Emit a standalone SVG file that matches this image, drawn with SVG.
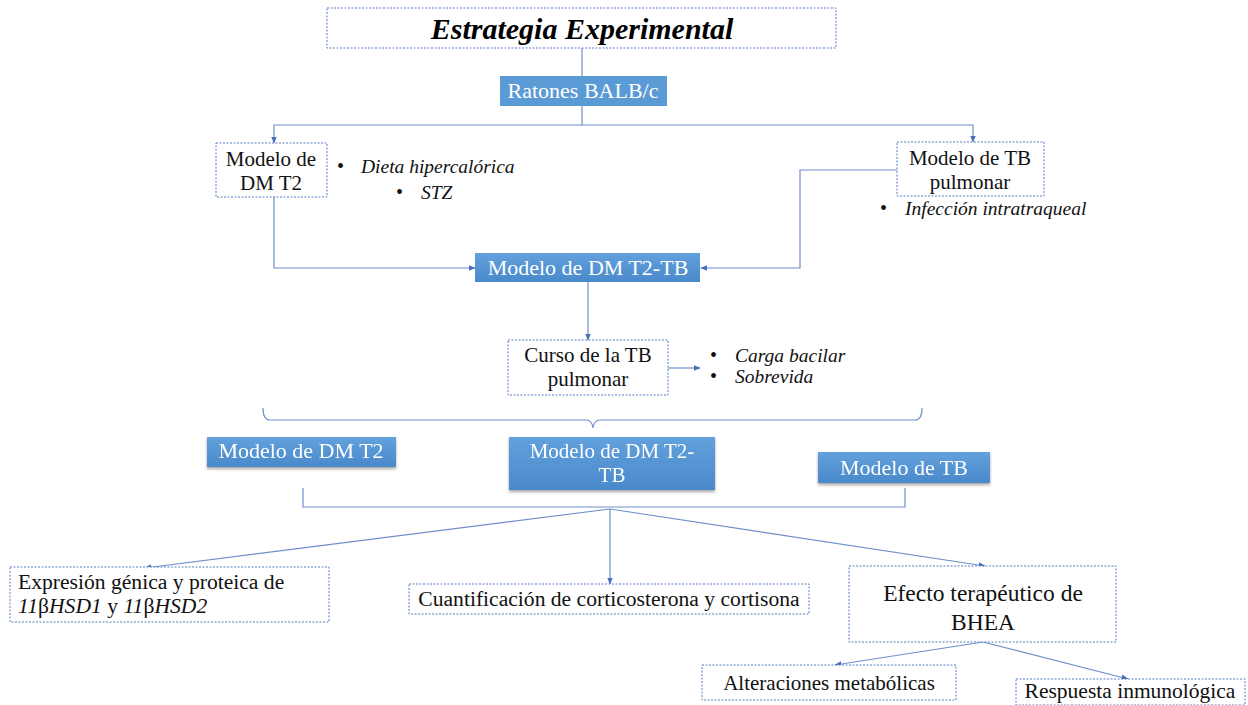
<svg xmlns="http://www.w3.org/2000/svg" width="1248" height="705" viewBox="0 0 1248 705">
<defs>
<style>
.dbox{fill:#fff;stroke:#5b7fc0;stroke-width:1;stroke-dasharray:2 1.5}
.bbox{fill:url(#bg);stroke:none}
.ln{fill:none;stroke:#6f8fcc;stroke-width:1.2}
</style>
<linearGradient id="bg" x1="0" y1="0" x2="0" y2="1">
<stop offset="0" stop-color="#62a1dc"/>
<stop offset="1" stop-color="#4a89cb"/>
</linearGradient>
<filter id="sh" x="-10%" y="-10%" width="120%" height="140%">
<feDropShadow dx="0" dy="2" stdDeviation="1.5" flood-color="#000" flood-opacity="0.35"/>
</filter>
<marker id="a" viewBox="0 0 10 10" refX="9" refY="5" markerWidth="6" markerHeight="6" orient="auto">
<path d="M0,1 L10,5 L0,9 z" fill="#4a6fbd"/>
</marker>
</defs>
<rect width="1248" height="705" fill="#fff"/>

<g id="connectors">
<path class="ln" d="M582,48 V76"/>
<path class="ln" d="M582,106 V125 H274 V143" marker-end="url(#a)"/>
<path class="ln" d="M582,125 H973 V142" marker-end="url(#a)"/>
<path class="ln" d="M274,197 V268 H475" marker-end="url(#a)"/>
<path class="ln" d="M897,170 H800 V268 H701" marker-end="url(#a)"/>
<path class="ln" d="M588,282 V340" marker-end="url(#a)"/>
<path class="ln" d="M668,368 H700" marker-end="url(#a)"/>
<path class="ln" d="M263,408 Q263,420 270,420 H586 Q592,420 593,428 Q594,420 600,420 H915 Q922,420 922,408"/>
<path class="ln" d="M303,488 V507 H905 V488"/>
<path class="ln" d="M610,509 L145,568" marker-end="url(#a)"/>
<path class="ln" d="M610,509 V584" marker-end="url(#a)"/>
<path class="ln" d="M610,509 L985,566" marker-end="url(#a)"/>
<path class="ln" d="M983,642 L835,665" marker-end="url(#a)"/>
<path class="ln" d="M983,642 L1128,679" marker-end="url(#a)"/>
</g>

<g id="title">
<rect class="dbox" x="327" y="8" width="509" height="40"/>
<text x="582" y="39" text-anchor="middle" font-family="Liberation Serif" font-size="30" font-weight="bold" font-style="italic" fill="#000">Estrategia Experimental</text>
</g>

<g id="ratones">
<rect x="500" y="76" width="167" height="30" fill="#5b9bd5"/>
<text x="583" y="98" text-anchor="middle" font-family="Liberation Serif" font-size="22" fill="#fff">Ratones BALB/c</text>
</g>

<g id="dmt2">
<rect class="dbox" x="216" y="143" width="111" height="54"/>
<text x="271" y="166" text-anchor="middle" font-family="Liberation Serif" font-size="21" fill="#111">Modelo de</text>
<text x="271" y="190" text-anchor="middle" font-family="Liberation Serif" font-size="21" fill="#111">DM T2</text>
</g>
<g id="dmt2-notes">
<text x="337" y="173" font-family="Liberation Serif" font-size="20" fill="#111">•</text>
<text x="361" y="173" font-family="Liberation Serif" font-size="19.5" font-style="italic" fill="#111">Dieta hipercalórica</text>
<text x="396" y="199" font-family="Liberation Serif" font-size="20" fill="#111">•</text>
<text x="421" y="199" font-family="Liberation Serif" font-size="19.5" font-style="italic" fill="#111">STZ</text>
</g>

<g id="tb">
<rect class="dbox" x="897" y="142" width="147" height="54"/>
<text x="970" y="165" text-anchor="middle" font-family="Liberation Serif" font-size="21" fill="#111">Modelo de TB</text>
<text x="970" y="189" text-anchor="middle" font-family="Liberation Serif" font-size="21" fill="#111">pulmonar</text>
</g>
<g id="tb-notes">
<text x="880" y="215" font-family="Liberation Serif" font-size="20" fill="#111">•</text>
<text x="905" y="215" font-family="Liberation Serif" font-size="19.5" font-style="italic" fill="#111">Infección intratraqueal</text>
</g>

<g id="dmt2tb">
<rect class="bbox" x="475" y="253" width="225" height="29"/>
<text x="588" y="275" text-anchor="middle" font-family="Liberation Serif" font-size="22" fill="#fff">Modelo de DM T2-TB</text>
</g>

<g id="curso">
<rect class="dbox" x="508" y="340" width="160" height="55"/>
<text x="588" y="362" text-anchor="middle" font-family="Liberation Serif" font-size="21" fill="#111">Curso de la TB</text>
<text x="588" y="386" text-anchor="middle" font-family="Liberation Serif" font-size="21" fill="#111">pulmonar</text>
</g>
<g id="curso-notes">
<text x="710" y="362" font-family="Liberation Serif" font-size="20" fill="#111">•</text>
<text x="735" y="362" font-family="Liberation Serif" font-size="19.5" font-style="italic" fill="#111">Carga bacilar</text>
<text x="710" y="383" font-family="Liberation Serif" font-size="20" fill="#111">•</text>
<text x="735" y="383" font-family="Liberation Serif" font-size="19.5" font-style="italic" fill="#111">Sobrevida</text>
</g>

<g id="g-dmt2" filter="url(#sh)">
<rect class="bbox" x="207" y="437" width="189" height="30"/>
<text x="301" y="458" text-anchor="middle" font-family="Liberation Serif" font-size="22" fill="#fff">Modelo de DM T2</text>
</g>
<g id="g-dmt2tb" filter="url(#sh)">
<rect class="bbox" x="509" y="437" width="206" height="53"/>
<text x="612" y="458" text-anchor="middle" font-family="Liberation Serif" font-size="21" fill="#fff">Modelo de DM T2-</text>
<text x="612" y="482" text-anchor="middle" font-family="Liberation Serif" font-size="21" fill="#fff">TB</text>
</g>
<g id="g-tb" filter="url(#sh)">
<rect class="bbox" x="818" y="452" width="172" height="31"/>
<text x="904" y="475" text-anchor="middle" font-family="Liberation Serif" font-size="22" fill="#fff">Modelo de TB</text>
</g>

<g id="expresion">
<rect class="dbox" x="10" y="567" width="319" height="55"/>
<text x="18" y="589" font-family="Liberation Serif" font-size="21.6" fill="#111">Expresión génica y proteica de</text>
<text x="18" y="613" font-family="Liberation Serif" font-size="21.6" fill="#111"><tspan font-style="italic">11</tspan>β<tspan font-style="italic">HSD1</tspan> y <tspan font-style="italic">11</tspan>β<tspan font-style="italic">HSD2</tspan></text>
</g>

<g id="cuantificacion">
<rect class="dbox" x="409" y="584" width="400" height="30"/>
<text x="609" y="606" text-anchor="middle" font-family="Liberation Serif" font-size="21.6" fill="#111">Cuantificación de corticosterona y cortisona</text>
</g>

<g id="efecto">
<rect class="dbox" x="849" y="566" width="267" height="76"/>
<text x="983" y="601" text-anchor="middle" font-family="Liberation Serif" font-size="23.5" fill="#111">Efecto terapéutico de</text>
<text x="983" y="630" text-anchor="middle" font-family="Liberation Serif" font-size="23.5" fill="#111">BHEA</text>
</g>

<g id="alteraciones">
<rect class="dbox" x="702" y="665" width="254" height="35"/>
<text x="829" y="690" text-anchor="middle" font-family="Liberation Serif" font-size="21" fill="#111">Alteraciones metabólicas</text>
</g>

<g id="respuesta">
<rect class="dbox" x="1016" y="679" width="229" height="26"/>
<text x="1130" y="698" text-anchor="middle" font-family="Liberation Serif" font-size="21.5" fill="#111">Respuesta inmunológica</text>
</g>
</svg>
